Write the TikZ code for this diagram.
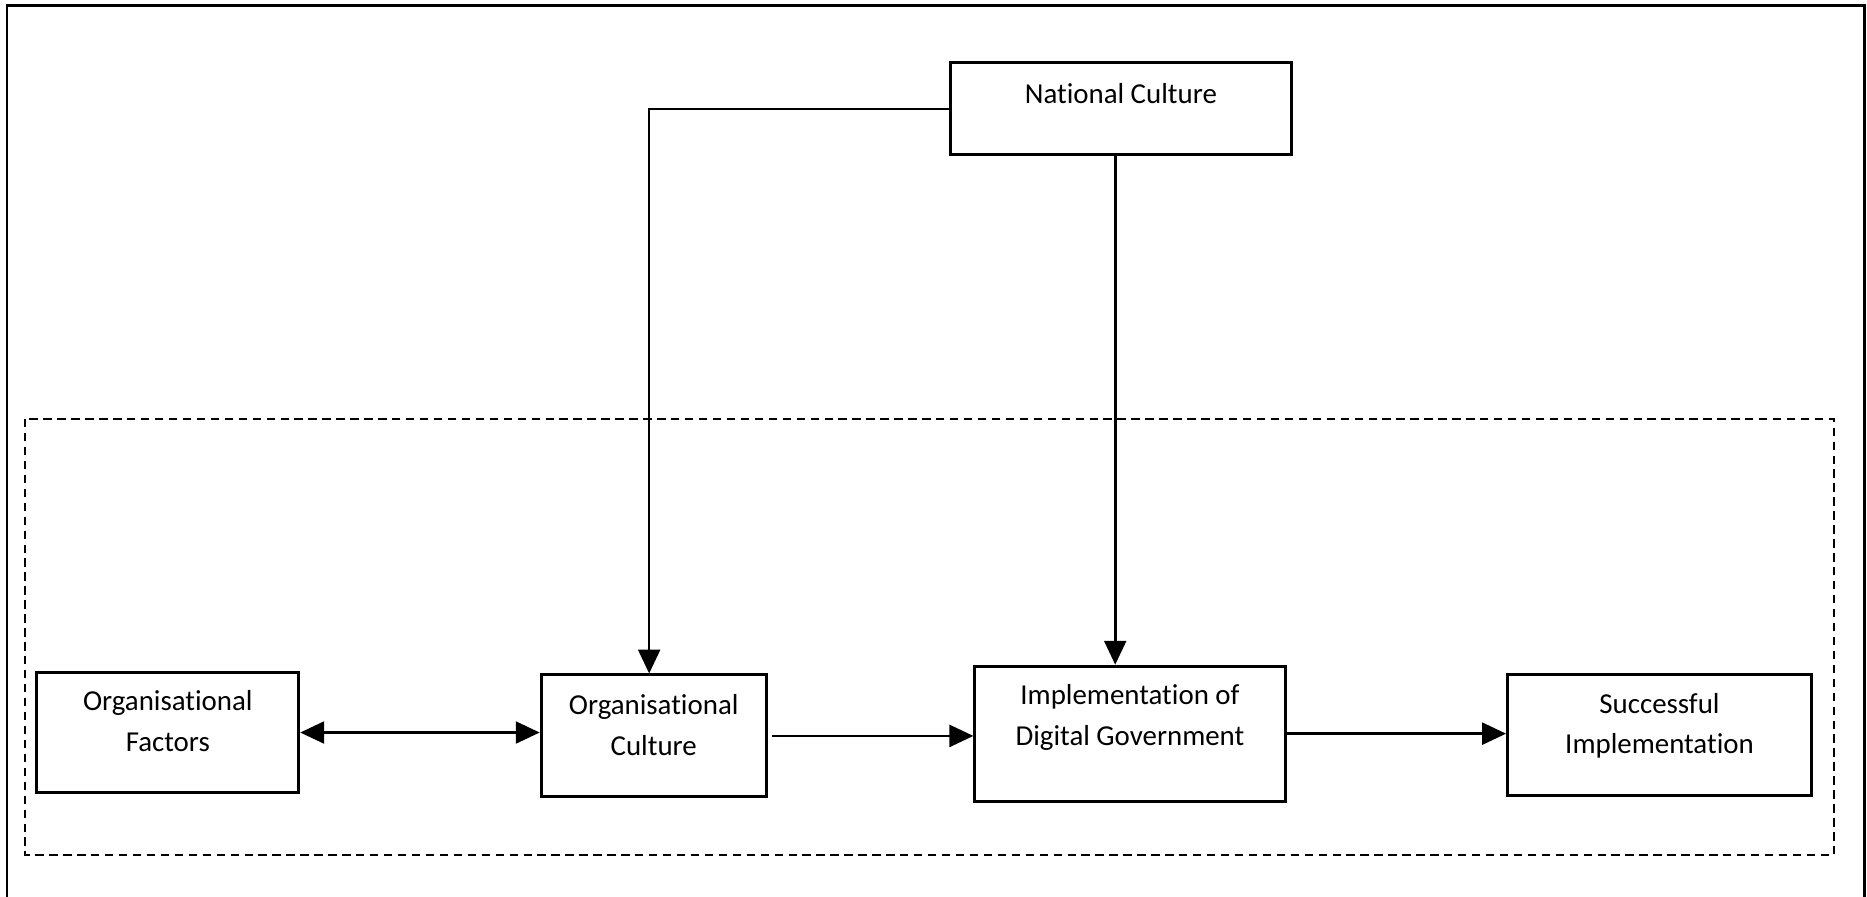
\documentclass[tikz,border=0pt]{standalone}
\usepackage{fontspec}
\setmainfont{Carlito}[Ligatures=NoCommon]
\usetikzlibrary{arrows.meta}

\begin{document}
\begin{tikzpicture}

      \tikzstyle{Block} = [
      rectangle,
      text centered,
      align=center,
      draw=black,
      line width=1.5pt,
      fill=white,
      font=\fontsize{14.5}{20.5}\selectfont
      ]

      \tikzstyle{Link} = [
      line width=1.3pt,
      -{Triangle[length=12pt, width=11pt]}
      ]

      \useasboundingbox (0,0) rectangle (32.93,-15.81);
      \draw [line width=1.3pt] (0.12,-0.10) rectangle (32.89,-16.5);
      \draw [line width=1.3pt, dash pattern=on 4.2pt off 2.8pt] (0.44,-7.39) rectangle (32.35,-15.08);

      \node (NationalCulture) [Block, minimum width=6.02cm, minimum height=1.62cm, text depth=0.53cm]
      at (19.77,-1.92) {National Culture};

      \node (OrgFactors) [Block, minimum width=4.62cm, minimum height=2.13cm, text depth=0.4cm]
      at (2.96,-12.92) {Organisational\\Factors};

      \node (OrgCulture) [Block, minimum width=3.97cm, minimum height=2.15cm, text depth=0.4cm]
      at ([xshift=8.57cm, yshift=-0.06cm] OrgFactors.center) {Organisational\\Culture};

      \node (DigitalGov) [Block, minimum width=5.47cm, minimum height=2.38cm, text depth=0.65cm]
      at ([xshift=8.4cm, yshift=0.04cm] OrgCulture.center) {Implementation of\\Digital Government};

      \node (Success) [Block, minimum width=5.36cm, minimum height=2.13cm, text depth=0.4cm]
      at ([xshift=9.34cm, yshift=-0.02cm] DigitalGov.center) {Successful\\Implementation};

      \draw [Link, {Triangle[length=12pt, width=11pt]}-{Triangle[length=12pt, width=11pt]}] (OrgFactors.east) -- (OrgFactors.east -| OrgCulture.west);
      \draw [Link, shorten <=2pt] (OrgCulture.east) -- (OrgCulture.east -| DigitalGov.west);
      \draw [Link] (DigitalGov.east) -- (DigitalGov.east -| Success.west);
      \draw [Link] (NationalCulture.west) -| ([xshift=-0.08cm] OrgCulture.north);
      \draw [Link] ([xshift=-0.1cm] NationalCulture.south) -- ([xshift=-0.1cm] NationalCulture.south |- DigitalGov.north);

    \end{tikzpicture}
\end{document}
